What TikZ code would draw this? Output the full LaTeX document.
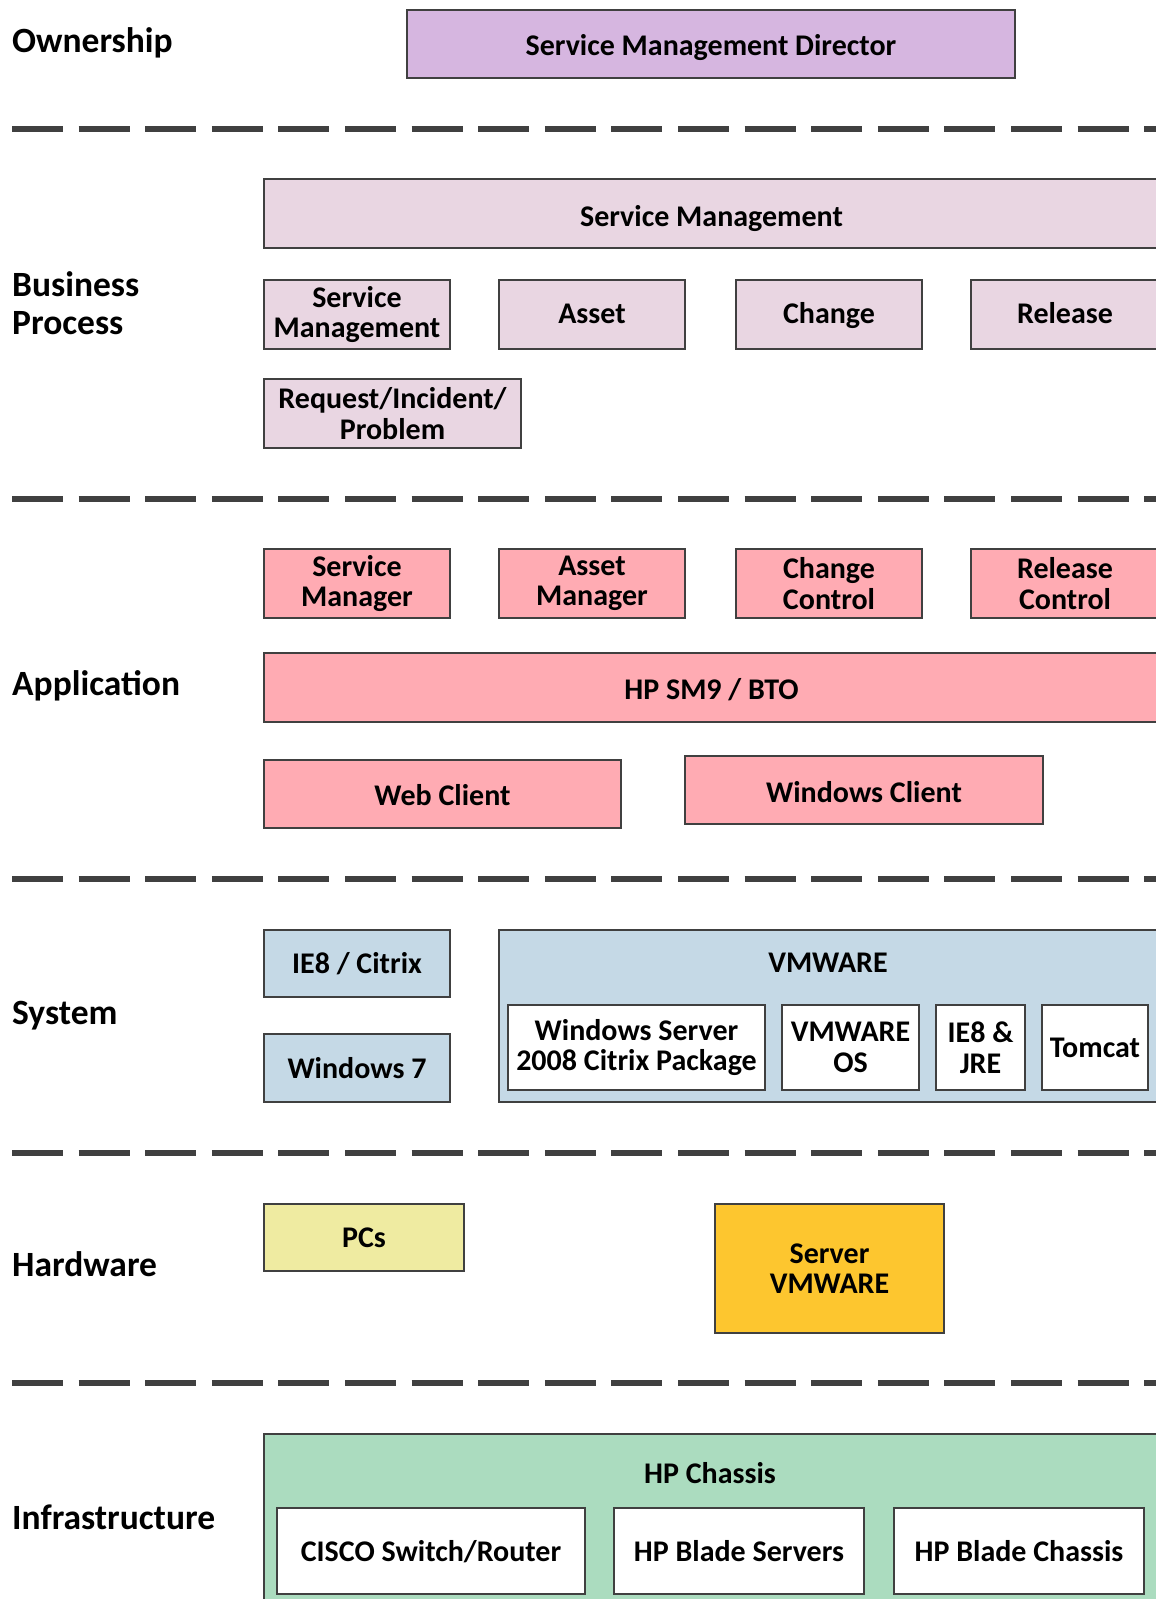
\documentclass[tikz,border=0pt]{standalone}
\usepackage{fontspec}
\setmainfont{Carlito}
\definecolor{edge}{HTML}{404040}
\definecolor{owncol}{HTML}{D6B6E0}
\definecolor{bpcol}{HTML}{E9D6E2}
\definecolor{appcol}{HTML}{FFABB3}
\definecolor{syscol}{HTML}{C5D9E6}
\definecolor{pccol}{HTML}{EFEBA1}
\definecolor{srvcol}{HTML}{FDC62F}
\definecolor{infcol}{HTML}{ABDCBF}
\tikzset{
  box/.style={draw=edge, line width=2pt, inner sep=0pt, anchor=north west, align=center,
    font=\fontsize{30}{30.5}\selectfont\bfseries},
  oneline/.style={text height={22pt+2*#1}, text depth=4.6pt},
  oneline/.default=0pt,
  lbl/.style={anchor=west, inner sep=0pt, align=left, font=\fontsize{35.5}{38}\selectfont\bfseries},
  lblone/.style={text height=25pt, text depth=5pt},
  sep/.style={draw=edge, line width=6pt, dash pattern=on 51pt off 15.6pt},
  ttl/.style={inner sep=0pt, font=\fontsize{30}{30}\selectfont\bfseries}
}
\newcommand{\bx}[8]{% name, style, x1, y1, x2, y2, text (one line), downward shift
  \node[box, oneline=#8, #2, minimum width={(#5-#3)*1pt}, minimum height={(#6-#4)*1pt}] (#1) at (#3,#4) {#7};}
\newcommand{\bxx}[7]{% name, style, x1, y1, x2, y2, text (two lines)
  \node[box, #2, minimum width={(#5-#3)*1pt}, minimum height={(#6-#4)*1pt}] (#1) at (#3,#4) {#7};}
\begin{document}
\begin{tikzpicture}[x=1pt, y=-1pt]
\useasboundingbox (0,0) rectangle (1156,1599);
\clip (0,0) rectangle (1156,1599);
\fill[white] (0,0) rectangle (1156,1599);

% separators
\coordinate (s1a) at (12,128.5); \coordinate (s1b) at (1170,128.5);
\coordinate (s2a) at (12,498.5); \coordinate (s2b) at (1170,498.5);
\coordinate (s3a) at (12,879);   \coordinate (s3b) at (1170,879);
\coordinate (s4a) at (12,1153);  \coordinate (s4b) at (1170,1153);
\coordinate (s5a) at (12,1383);  \coordinate (s5b) at (1170,1383);
\draw[sep] (s1a) -- (s1b);
\draw[sep] (s2a) -- (s2b);
\draw[sep] (s3a) -- (s3b);
\draw[sep] (s4a) -- (s4b);
\draw[sep] (s5a) -- (s5b);

% left labels
\node[lbl, lblone] (Lown) at (12,42) {Ownership};
\node[lbl] (Lbp) at (12,303) {Business\\Process};
\node[lbl, lblone] (Lapp) at (12,685) {Application};
\node[lbl, lblone] (Lsys) at (12,1014) {System};
\node[lbl, lblone] (Lhw) at (12,1266) {Hardware};
\node[lbl, lblone] (Linf) at (12,1519) {Infrastructure};

% ownership
\bx{dir}{fill=owncol}{406}{9}{1014}{77}{Service Management Director}{2.5pt}

% business process
\bx{smbig}{fill=bpcol}{263}{178}{1158}{247}{Service Management}{4pt}
\bxx{spm}{fill=bpcol}{263}{279}{449}{348}{Service\\Management}
\bx{asset}{fill=bpcol}{498}{279}{684}{348}{Asset}{0pt}
\bx{change}{fill=bpcol}{735}{279}{921}{348}{Change}{0pt}
\bx{release}{fill=bpcol}{970}{279}{1158}{348}{Release}{0pt}
\bxx{rip}{fill=bpcol}{263}{378}{520}{447}{Request/Incident/\\Problem}

% application
\bxx{svcmgr}{fill=appcol}{263}{548}{449}{617}{Service\\Manager}
\bxx{assetmgr}{fill=appcol}{498}{548}{684}{617}{Asset\\Manager}
\bxx{chgctl}{fill=appcol}{735}{548}{921}{617}{Change\\Control}
\bxx{relctl}{fill=appcol}{970}{548}{1158}{617}{Release\\Control}
\bx{hpsm}{fill=appcol}{263}{652}{1158}{721}{HP SM9 / BTO}{3pt}
\bx{web}{fill=appcol}{263}{759}{620}{827}{Web Client}{3pt}
\bx{win}{fill=appcol}{684}{755}{1042}{823}{Windows Client}{4pt}

% system
\bx{ie8}{fill=syscol}{263}{929}{449}{996}{IE8 / Citrix}{1.5pt}
\bx{win7}{fill=syscol}{263}{1033}{449}{1101}{Windows 7}{2pt}
\bx{vmw}{fill=syscol}{498}{929}{1158}{1101}{}{0pt}
\node[ttl] (vmwt) at (828,963) {VMWARE};
\bxx{ws}{fill=white}{507}{1004}{764}{1089}{Windows Server\\2008 Citrix Package}
\bxx{vos}{fill=white}{781}{1004}{918}{1089}{VMWARE\\OS}
\bxx{jre}{fill=white}{935}{1004}{1024}{1089}{IE8 \&\\JRE}
\bx{tomcat}{fill=white}{1041}{1004}{1147}{1089}{Tomcat}{1pt}

% hardware
\bx{pcs}{fill=pccol}{263}{1203}{463}{1270}{PCs}{1.5pt}
\bxx{srv}{fill=srvcol}{714}{1203}{943}{1332}{Server\\VMWARE}

% infrastructure
\bx{hpc}{fill=infcol}{263}{1433}{1158}{1612}{}{0pt}
\node[ttl] (hpct) at (710,1473) {HP Chassis};
\bx{cisco}{fill=white}{276}{1507}{584}{1593}{CISCO Switch/Router}{1.5pt}
\bx{hpbs}{fill=white}{613}{1507}{863}{1593}{HP Blade Servers}{1.5pt}
\bx{hpbc}{fill=white}{893}{1507}{1143}{1593}{HP Blade Chassis}{1.5pt}
\end{tikzpicture}
\end{document}
